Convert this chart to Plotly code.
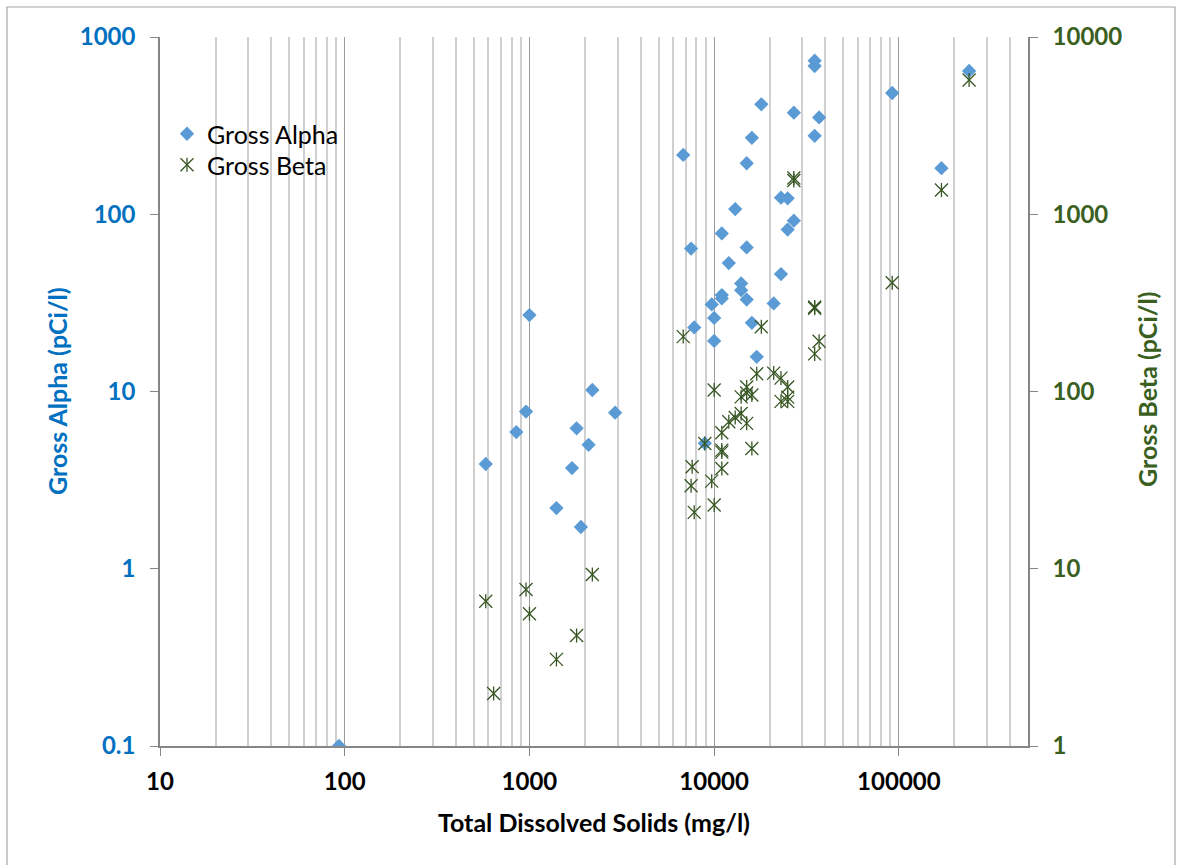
import math
import plotly.graph_objects as go

# ---------------- data ----------------
tds_alpha = [93, 580, 849, 958, 1000, 1400, 1700, 1800, 1900, 2090, 2190, 2910,
             6800, 7500, 7800, 8900, 9700, 10000, 10000, 11000, 11000, 11000,
             12000, 13000, 14000, 14000, 15000, 15000, 15000, 16000, 16000, 17000,
             18000, 21000, 23000, 23000, 25000, 25000, 27000, 27000, 35000, 35000,
             35000, 37000, 92000, 170000, 240000]
gross_alpha = [0.1, 3.9, 5.9, 7.7, 27, 2.2, 3.7, 6.2, 1.72, 5.0, 10.2, 7.6,
               216, 64, 23, 5.1, 31, 26, 19.3, 78, 35, 33.5,
               53, 107, 40.7, 37.3, 194, 65, 33, 270, 24.4, 15.7,
               417, 31.4, 124, 46, 123, 82, 374, 92, 735, 686,
               277, 352, 483, 182, 643]

tds_beta = [580, 640, 958, 1000, 1400, 1800, 2190, 6800, 7500, 7600, 7800, 8900,
            9700, 10000, 10000, 11000, 11000, 11000, 11000, 12000, 13000, 14000,
            14000, 15000, 15000, 15000, 16000, 16000, 17000, 18000, 21000, 23000,
            23000, 25000, 25000, 25000, 27000, 27000, 35000, 35000, 35000, 37000,
            92000, 170000, 240000]
gross_beta = [6.56, 1.98, 7.64, 5.57, 3.08, 4.2, 9.29, 204, 29.4, 37.6, 20.8, 50.9,
              31.2, 22.9, 102, 36.8, 46.7, 45.5, 58.5, 67.5, 71.4, 75.2,
              93.3, 66.1, 106, 98, 47.7, 95.5, 126, 232, 127, 119,
              88, 106, 93, 88, 1600, 1550, 300, 295, 163, 192,
              411, 1369, 5720]

x_ticks = [10, 100, 1000, 10000, 100000]
alpha_ticks = [0.1, 1, 10, 100, 1000]
beta_ticks = [1, 10, 100, 1000, 10000]

# ---------------- layout geometry ----------------
W, H = 1181, 865
L, R, T, B = 160, 153, 37, 119
PW, PH = W - L - R, H - T - B


def pxx(p):
    return (p - L) / PW


def pxy(p):
    return (H - B - p) / PH


FONT = "Lato"
BLUE = "#5B9BD5"
BLUE_TXT = "#0070C0"
GREEN = "#375623"
GREEN_TXT = "#3A5F1E"
AXIS = "#868686"

minor_x = [m * 10 ** e for e in range(1, 6) for m in range(2, 10) if m * 10 ** e <= 500000]

fig = go.Figure()
fig.add_trace(go.Scatter(
    x=tds_alpha, y=gross_alpha, mode="markers", name="Gross Alpha", legend="legend",
    marker=dict(symbol="diamond", size=11, color=BLUE, line=dict(width=0)),
))
fig.add_trace(go.Scatter(
    x=tds_beta, y=gross_beta, yaxis="y2", mode="markers", name="Gross Beta",
    legend="legend2",
    marker=dict(symbol="x-thin-open", size=13, color=GREEN,
                line=dict(width=1.3, color=GREEN)),
))
# vertical stroke of the Excel "star" marker (its legend icon overlays the one above)
fig.add_trace(go.Scatter(
    x=tds_beta, y=gross_beta, yaxis="y2", mode="markers", name=" ",
    legend="legend3", hoverinfo="skip",
    marker=dict(symbol="line-ns-open", size=10, color=GREEN,
                line=dict(width=1.3, color=GREEN)),
))

LEG_X = pxx(167)
leg_common = dict(xanchor="left", yanchor="top", bgcolor="rgba(0,0,0,0)",
                  font=dict(family=FONT, size=25, color="black"), itemwidth=30)

fig.update_layout(
    width=W, height=H,
    margin=dict(l=L, r=R, t=T, b=B, autoexpand=False),
    paper_bgcolor="white", plot_bgcolor="white",
    font=dict(family=FONT, color="black"),
    showlegend=True,
    legend=dict(x=LEG_X, y=pxy(111), **leg_common),
    legend2=dict(x=LEG_X, y=pxy(142), **leg_common),
    legend3=dict(x=LEG_X, y=pxy(142), **leg_common),
    xaxis=dict(
        type="log", range=[1, math.log10(500000)],
        showline=True, linecolor=AXIS, linewidth=1.5,
        ticks="outside", ticklen=8, tickcolor=AXIS, tickwidth=1.3,
        tickvals=x_ticks, ticktext=[str(v) for v in x_ticks],
        tickfont=dict(family=FONT, size=24, color="black", weight="bold"),
        ticklabelstandoff=5,
        showgrid=True, gridcolor="#9C9C9C", gridwidth=1.3,
        minor=dict(tickvals=minor_x, showgrid=True, gridcolor="#D0D0D0",
                   gridwidth=1.5, ticks=""),
        zeroline=False,
    ),
    yaxis=dict(
        type="log", range=[-1, 3],
        showline=True, linecolor=AXIS, linewidth=1.5,
        ticks="outside", ticklen=8, tickcolor=AXIS, tickwidth=1.3,
        tickvals=alpha_ticks, ticktext=["0.1", "1", "10", "100", "1000"],
        tickfont=dict(family=FONT, size=24, color=BLUE_TXT, weight="bold"),
        ticklabelstandoff=10,
        showgrid=False, zeroline=False,
    ),
    yaxis2=dict(
        type="log", range=[0, 4], overlaying="y", side="right",
        showline=True, linecolor=AXIS, linewidth=1.5,
        ticks="outside", ticklen=8, tickcolor=AXIS, tickwidth=1.3,
        tickvals=beta_ticks, ticktext=[str(v) for v in beta_ticks],
        tickfont=dict(family=FONT, size=24, color=GREEN_TXT, weight="bold"),
        ticklabelstandoff=10,
        showgrid=False, zeroline=False,
    ),
    shapes=[dict(type="rect", xref="paper", yref="paper",
                 x0=pxx(7), x1=pxx(1175), y0=pxy(870), y1=pxy(7),
                 line=dict(color="#A6A6A6", width=1.2), fillcolor="rgba(0,0,0,0)",
                 layer="below")],
    annotations=[
        dict(text="Gross Alpha (pCi/l)", xref="paper", yref="paper",
             x=pxx(57), y=pxy(391), textangle=-90, showarrow=False,
             xanchor="center", yanchor="middle",
             font=dict(family=FONT, size=25, color=BLUE_TXT, weight="bold")),
        dict(text="Gross Beta (pCi/l)", xref="paper", yref="paper",
             x=pxx(1147), y=pxy(390), textangle=-90, showarrow=False,
             xanchor="center", yanchor="middle",
             font=dict(family=FONT, size=25, color=GREEN_TXT, weight="bold")),
        dict(text="Total Dissolved Solids (mg/l)", xref="paper", yref="paper",
             x=pxx(594), y=pxy(822), showarrow=False,
             xanchor="center", yanchor="middle",
             font=dict(family=FONT, size=25, color="black", weight="bold")),
    ],
)

fig.write_html("out.html")
